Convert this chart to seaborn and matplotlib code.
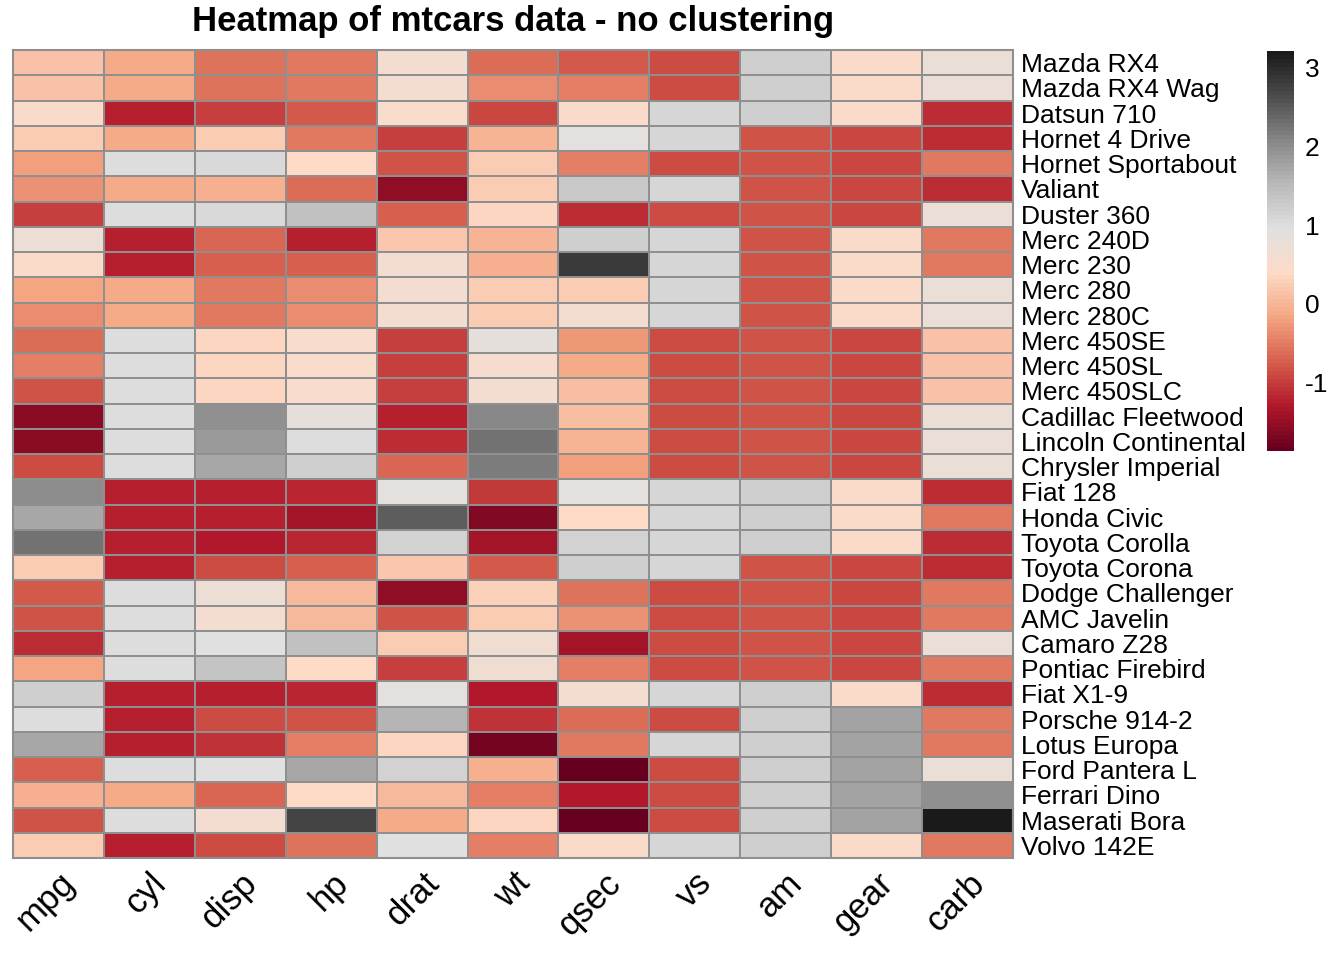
import numpy as np
import pandas as pd
import matplotlib
matplotlib.use("Agg")
import matplotlib.pyplot as plt
from matplotlib.colors import LinearSegmentedColormap
import seaborn as sns

cars = ["Mazda RX4", "Mazda RX4 Wag", "Datsun 710", "Hornet 4 Drive", "Hornet Sportabout",
        "Valiant", "Duster 360", "Merc 240D", "Merc 230", "Merc 280", "Merc 280C",
        "Merc 450SE", "Merc 450SL", "Merc 450SLC", "Cadillac Fleetwood", "Lincoln Continental",
        "Chrysler Imperial", "Fiat 128", "Honda Civic", "Toyota Corolla", "Toyota Corona",
        "Dodge Challenger", "AMC Javelin", "Camaro Z28", "Pontiac Firebird", "Fiat X1-9",
        "Porsche 914-2", "Lotus Europa", "Ford Pantera L", "Ferrari Dino", "Maserati Bora",
        "Volvo 142E"]
variables = ["mpg", "cyl", "disp", "hp", "drat", "wt", "qsec", "vs", "am", "gear", "carb"]

mpg = [0.15, 0.15, 0.45, 0.22, -0.23, -0.33, -0.96, 0.72, 0.45, -0.15, -0.38, -0.61, -0.46,
       -0.81, -1.61, -1.61, -0.89, 2.04, 1.71, 2.29, 0.23, -0.76, -0.81, -1.13, -0.15, 1.20,
       0.98, 1.71, -0.71, -0.06, -0.84, 0.22]
cyl = [-0.10, -0.10, -1.22, -0.10, 1.01, -0.10, 1.01, -1.22, -1.22, -0.10, -0.10, 1.01, 1.01,
       1.01, 1.01, 1.01, 1.01, -1.22, -1.22, -1.22, -1.22, 1.01, 1.01, 1.01, 1.01, -1.22,
       -1.22, -1.22, 1.01, -0.10, 1.01, -1.22]
disp = [-0.57, -0.57, -0.99, 0.22, 1.04, -0.05, 1.04, -0.68, -0.73, -0.51, -0.51, 0.36, 0.36,
        0.36, 1.95, 1.85, 1.69, -1.23, -1.25, -1.29, -0.89, 0.70, 0.59, 0.96, 1.37, -1.22,
        -0.89, -1.09, 0.97, -0.69, 0.57, -0.89]
hp = [-0.54, -0.54, -0.78, -0.54, 0.41, -0.61, 1.43, -1.24, -0.75, -0.35, -0.35, 0.49, 0.49,
      0.49, 0.85, 1.00, 1.22, -1.18, -1.38, -1.19, -0.73, 0.05, 0.05, 1.43, 0.41, -1.18,
      -0.81, -0.49, 1.71, 0.41, 2.75, -0.55]
drat = [0.57, 0.57, 0.47, -0.97, -0.84, -1.56, -0.72, 0.18, 0.61, 0.61, 0.61, -0.99, -0.99,
        -0.99, -1.25, -1.12, -0.69, 0.90, 2.49, 1.17, 0.19, -1.56, -0.84, 0.25, -0.97, 0.90,
        1.56, 0.32, 1.17, 0.04, -0.11, 0.96]
wt = [-0.61, -0.35, -0.92, -0.00, 0.23, 0.25, 0.36, -0.03, -0.07, 0.23, 0.23, 0.87, 0.52,
      0.58, 2.08, 2.26, 2.17, -1.04, -1.64, -1.41, -0.77, 0.31, 0.22, 0.64, 0.64, -1.31,
      -1.10, -1.74, -0.05, -0.46, 0.36, -0.45]
qsec = [-0.78, -0.46, 0.43, 0.89, -0.46, 1.33, -1.12, 1.20, 2.83, 0.25, 0.59, -0.25, -0.14,
        0.09, 0.07, -0.02, -0.24, 0.91, 0.38, 1.15, 1.21, -0.55, -0.31, -1.37, -0.45, 0.59,
        -0.64, -0.53, -1.87, -1.31, -1.82, 0.42]
vs = [-0.87, -0.87, 1.12, 1.12, -0.87, 1.12, -0.87, 1.12, 1.12, 1.12, 1.12, -0.87, -0.87,
      -0.87, -0.87, -0.87, -0.87, 1.12, 1.12, 1.12, 1.12, -0.87, -0.87, -0.87, -0.87, 1.12,
      -0.87, 1.12, -0.87, -0.87, -0.87, 1.12]
am = [1.19, 1.19, 1.19, -0.81, -0.81, -0.81, -0.81, -0.81, -0.81, -0.81, -0.81, -0.81, -0.81,
      -0.81, -0.81, -0.81, -0.81, 1.19, 1.19, 1.19, -0.81, -0.81, -0.81, -0.81, -0.81, 1.19,
      1.19, 1.19, 1.19, 1.19, 1.19, 1.19]
gear = [0.42, 0.42, 0.42, -0.93, -0.93, -0.93, -0.93, 0.42, 0.42, 0.42, 0.42, -0.93, -0.93,
        -0.93, -0.93, -0.93, -0.93, 0.42, 0.42, 0.42, -0.93, -0.93, -0.93, -0.93, -0.93, 0.42,
        1.78, 1.78, 1.78, 1.78, 1.78, 0.42]
carb = [0.74, 0.74, -1.12, -1.12, -0.50, -1.12, 0.74, -0.50, -0.50, 0.74, 0.74, 0.12, 0.12,
        0.12, 0.74, 0.74, 0.74, -1.12, -0.50, -1.12, -1.12, -0.50, -0.50, 0.74, -0.50, -1.12,
        -0.50, -0.50, 0.74, 1.97, 3.21, -0.50]

palette = ["#67001F", "#B2182B", "#D6604D", "#F4A582", "#FDDBC7",
           "#E0E0E0", "#BABABA", "#878787", "#4D4D4D", "#1A1A1A"]
cbar_ticks = [-1, 0, 1, 2, 3]

df = pd.DataFrame({"mpg": mpg, "cyl": cyl, "disp": disp, "hp": hp, "drat": drat, "wt": wt,
                   "qsec": qsec, "vs": vs, "am": am, "gear": gear, "carb": carb}, index=cars)
df = df[variables]

sns.set_style("white")
plt.rcParams["font.family"] = ["Liberation Sans", "DejaVu Sans"]
plt.rcParams["axes.unicode_minus"] = False
plt.rcParams["text.color"] = "black"
plt.rcParams["xtick.color"] = "black"
plt.rcParams["ytick.color"] = "black"

cmap = LinearSegmentedColormap.from_list("rdgy10", palette, N=100)

W, H = 1344, 960
fig = plt.figure(figsize=(W / 100, H / 100), dpi=100)
ax = fig.add_axes([13 / W, 1 - 858 / H, 1000 / W, 808 / H])
cax = fig.add_axes([1267 / W, 1 - 451 / H, 27 / W, 400 / H])

vmin, vmax = float(df.values.min()), float(df.values.max())
sns.heatmap(df, ax=ax, cmap=cmap, vmin=vmin, vmax=vmax, linewidths=1.3,
            linecolor="#8f8f8f", cbar_ax=cax, cbar_kws={"ticks": cbar_ticks})

for s in ax.spines.values():
    s.set_visible(True)
    s.set_color("#8f8f8f")
    s.set_linewidth(1.5)

ax.yaxis.tick_right()
ax.set_yticks(np.arange(len(cars)) + 0.5)
ax.set_yticklabels(cars, rotation=0, fontsize=19, va="center_baseline", ha="left")
ax.set_xticks(np.arange(len(variables)) + 0.5)
ax.set_xticklabels(variables, rotation=45, ha="right", va="top", rotation_mode="anchor",
                   fontsize=25)
ax.tick_params(axis="both", length=0)
ax.tick_params(axis="y", pad=6)
ax.tick_params(axis="x", pad=6)
ax.set_xlabel("")
ax.set_ylabel("")

cbar = ax.collections[0].colorbar
cbar.outline.set_visible(False)
cax.tick_params(length=0, labelsize=19, pad=8)

fig.text(513 / W, 1 - 22 / H, "Heatmap of mtcars data - no clustering", ha="center",
         va="center", fontsize=25, fontweight="bold")

fig.savefig("out.png", dpi=100)
